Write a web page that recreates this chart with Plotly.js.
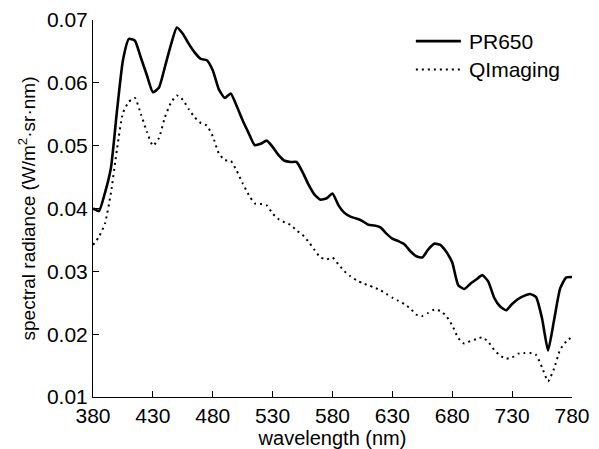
<!DOCTYPE html>
<html>
<head>
<meta charset="utf-8">
<script src="https://cdn.plot.ly/plotly-3.0.1.min.js"></script>
<style>html,body{margin:0;padding:0;background:#fff;}#chart{width:599px;height:449px;}</style>
</head>
<body>
<div id="chart"></div>
<script>
const wavelength = [380,385,390,395,400,405,410,415,420,425,430,435,440,445,450,455,460,465,470,475,480,485,490,495,500,505,510,515,520,525,530,535,540,545,550,555,560,565,570,575,580,585,590,595,600,605,610,615,620,625,630,635,640,645,650,655,660,665,670,675,680,685,690,695,700,705,710,715,720,725,730,735,740,745,750,755,760,765,770,775,780];
const pr650 = [0.0400,0.0396,0.0425,0.0465,0.0555,0.0636,0.0670,0.0667,0.0640,0.0612,0.0585,0.0592,0.0625,0.0660,0.0688,0.0678,0.0662,0.0648,0.0638,0.0636,0.0620,0.0590,0.0576,0.0583,0.0563,0.0540,0.0520,0.0501,0.0503,0.0508,0.0498,0.0485,0.0476,0.0474,0.0474,0.0458,0.0438,0.0422,0.0414,0.0416,0.0424,0.0405,0.0393,0.0387,0.0384,0.0380,0.0374,0.0373,0.0370,0.0360,0.0352,0.0348,0.0343,0.0332,0.0324,0.0322,0.0335,0.0344,0.0342,0.0331,0.0314,0.0278,0.0272,0.0280,0.0287,0.0294,0.0284,0.0258,0.0244,0.0238,0.0248,0.0256,0.0261,0.0264,0.0259,0.0225,0.0174,0.0222,0.0272,0.0290,0.0291];
const qimaging = [0.0342,0.0355,0.0376,0.0425,0.0494,0.0552,0.0570,0.0576,0.0550,0.0522,0.0500,0.0512,0.0545,0.0568,0.0580,0.0573,0.0558,0.0545,0.0536,0.0532,0.0515,0.0488,0.0477,0.0476,0.0460,0.0440,0.0422,0.0408,0.0407,0.0405,0.0392,0.0383,0.0378,0.0374,0.0365,0.0358,0.0347,0.0334,0.0322,0.0319,0.0322,0.0311,0.0300,0.0292,0.0286,0.0281,0.0278,0.0274,0.0270,0.0264,0.0258,0.0253,0.0248,0.0241,0.0231,0.0229,0.0234,0.0239,0.0237,0.0229,0.0214,0.0194,0.0185,0.0189,0.0192,0.0195,0.0188,0.0175,0.0166,0.0161,0.0163,0.0169,0.0170,0.0170,0.0167,0.0147,0.0125,0.0145,0.0175,0.0188,0.0196];
const seriesNames = ['PR650', 'QImaging'];
const xTicks = [380,430,480,530,580,630,680,730,780];
const yTicks = [0.01,0.02,0.03,0.04,0.05,0.06,0.07];

const font = 'Arial, "Liberation Sans", Helvetica, sans-serif';
const FS = 21;
const lineStyles = [
  {color: '#000', width: 2.6},
  {color: '#000', width: 2, dash: '2px,4px'}
];
const traces = [
  {x: wavelength, y: pr650, name: seriesNames[0], type: 'scatter', mode: 'lines',
   line: Object.assign({shape: 'spline', smoothing: 0.5}, lineStyles[0])},
  {x: wavelength, y: qimaging, name: seriesNames[1], type: 'scatter', mode: 'lines',
   line: Object.assign({shape: 'spline', smoothing: 0.5}, lineStyles[1])}
];
// hand-placed legend (longer line samples, as in the reference)
const legY = [0.944, 0.869];
const shapes = seriesNames.map((n, i) => ({
  type: 'line', xref: 'paper', yref: 'paper', x0: 0.674, x1: 0.768, y0: legY[i], y1: legY[i],
  line: lineStyles[i]
}));
const annotations = seriesNames.map((n, i) => ({
  text: n, xref: 'paper', yref: 'paper', x: 0.78, y: legY[i], xanchor: 'left', yanchor: 'middle',
  showarrow: false, font: {family: font, size: FS, color: '#000'}
}));
const layout = {
  width: 599, height: 449,
  margin: {l: 93, r: 27, t: 20, b: 52, pad: 0},
  paper_bgcolor: '#fff', plot_bgcolor: '#fff',
  font: {family: font, size: FS, color: '#000'},
  showlegend: false,
  shapes: shapes,
  annotations: annotations,
  xaxis: {range: [380, 780], tickvals: xTicks, ticktext: xTicks.map(String),
          ticks: 'inside', ticklen: 6, tickwidth: 1, tickcolor: '#000',
          showline: true, linecolor: '#000', linewidth: 1, mirror: false,
          showgrid: false, zeroline: false,
          tickfont: {family: font, size: FS},
          title: {text: 'wavelength (nm)', font: {family: font, size: 20}, standoff: 2}},
  yaxis: {range: [0.01, 0.07], tickvals: yTicks, ticktext: yTicks.map(v => v.toFixed(2)),
          ticks: 'inside', ticklen: 6, tickwidth: 1, tickcolor: '#000',
          showline: true, linecolor: '#000', linewidth: 1, mirror: false,
          showgrid: false, zeroline: false,
          tickfont: {family: font, size: FS},
          title: {text: 'spectral radiance (W/m<sup>2</sup>·sr·nm)', font: {family: font, size: 19}, standoff: 6}}
};
Plotly.newPlot('chart', traces, layout, {staticPlot: true, displayModeBar: false});
</script>
</body>
</html>
